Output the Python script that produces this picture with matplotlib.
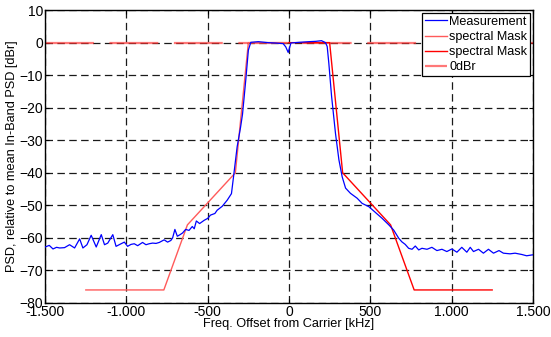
import numpy as np
import matplotlib
matplotlib.use('Agg')
import matplotlib.pyplot as plt
from matplotlib.ticker import FuncFormatter

plt.rcParams['font.family'] = ['Liberation Sans', 'DejaVu Sans']

# measurement (kHz offset, dBr)
meas_f = [-1500, -1475, -1452, -1430, -1411, -1381, -1350, -1319, -1288, -1268, -1243,
          -1217, -1186, -1155, -1135, -1115, -1084, -1064, -1033, -1013, -993, -972,
          -952, -931, -901, -880, -860, -839, -818, -798, -768, -747, -727, -716, -702,
          -687, -670, -655, -636, -615, -595, -583, -570, -550, -522, -500, -483, -456,
          -442, -411, -380, -354, -339, -319, -298, -286, -266, -250, -235, -189, -128,
          -87, -36, -20, -5, 12, 61, 123, 164, 200, 225, 235, 245, 262, 286, 307, 327,
          348, 378, 419, 450, 491, 532, 573, 614, 644, 675, 694, 715, 736, 757, 777,
          798, 818, 849, 879, 910, 941, 971, 1002, 1033, 1063, 1094, 1115, 1135, 1166,
          1196, 1227, 1258, 1292, 1319, 1360, 1391, 1432, 1462, 1500]
meas_db = [-62.8, -62.3, -63.4, -62.9, -63.1, -63.0, -62.1, -63.1, -60.3, -63.1, -62.1,
           -59.2, -62.8, -59.0, -62.1, -61.6, -59.0, -62.6, -61.8, -61.3, -62.6, -62.0,
           -61.8, -62.4, -61.4, -62.1, -61.8, -61.6, -61.7, -61.4, -60.6, -61.3, -60.8,
           -60.0, -57.4, -59.5, -59.0, -58.5, -57.4, -57.7, -56.5, -57.2, -54.8, -55.6,
           -54.6, -54.0, -53.0, -52.5, -51.5, -50.3, -48.4, -46.4, -40.3, -32.0, -26.0,
           -22.0, -11.5, -2.3, 0.1, 0.3, 0.0, -0.1, -0.3, -1.3, -3.0, -0.1, 0.1, 0.3, 0.4,
           0.6, 0.0, -1.2, -6.3, -16.5, -27.9, -36.0, -41.2, -44.7, -46.3, -47.8, -49.4,
           -50.4, -52.2, -54.0, -56.0, -57.6, -60.1, -61.2, -62.0, -63.2, -63.5, -62.5,
           -63.7, -63.2, -63.5, -62.9, -63.9, -63.5, -64.2, -63.4, -64.4, -62.9, -64.4,
           -62.9, -64.2, -63.5, -64.7, -63.5, -64.7, -63.9, -64.7, -64.9, -64.7, -65.1,
           -65.5, -65.2]

# spectral mask, two halves
mask_l_f = [-1250, -770, -625, -330, -250, 0]
mask_l_db = [-76, -76, -56, -40, 0, 0]
mask_r_f = [0, 250, 330, 625, 770, 1250]
mask_r_db = [0, 0, -40, -56, -76, -76]

ref_f = [-1500, 1500]
ref_db = [0, 0]

fig = plt.figure(figsize=(5.51, 3.37), dpi=100)
ax = fig.add_axes([0.082, 0.101, 0.885, 0.869])

ax.plot(meas_f, meas_db, color='#0000ff', lw=0.9, label='Measurement', zorder=4)
ax.plot(mask_l_f, mask_l_db, color='#ff5a5a', lw=1.0, label='spectral Mask', zorder=3)
ax.plot(mask_r_f, mask_r_db, color='#ff0000', lw=1.0, label='spectral Mask', zorder=3)
ax.plot(ref_f, ref_db, color='#ff3030', lw=1.6, alpha=0.65, dashes=(22, 7),
        label='0dBr', zorder=2)

ax.set_xlim(-1500, 1500)
ax.set_ylim(-80, 10)
ax.set_xticks([-1500, -1000, -500, 0, 500, 1000, 1500])
ax.set_yticks(np.arange(-80, 11, 10))
ax.xaxis.set_major_formatter(FuncFormatter(lambda v, p: f'{int(v):,}'.replace(',', '.')))
ax.grid(True, color='0.1', linestyle=(0, (6, 3.5)), lw=0.9)
ax.tick_params(direction='in', top=True, right=True, labelsize=10, length=3, pad=1.5)
for s in ax.spines.values():
    s.set_linewidth(1.0)

ax.set_xlabel('Freq. Offset from Carrier [kHz]', fontsize=9.2, labelpad=-1)
ax.set_ylabel('PSD, relative to mean In-Band PSD [dBr]', fontsize=9.2, labelpad=1)

leg = ax.legend(loc='upper right', fontsize=9.1, fancybox=False, framealpha=1,
                edgecolor='k', handlelength=1.7, handletextpad=0.2,
                labelspacing=0.25, borderpad=0.25, borderaxespad=0.2)
leg.get_frame().set_linewidth(0.9)

fig.savefig('out.png', dpi=100)
